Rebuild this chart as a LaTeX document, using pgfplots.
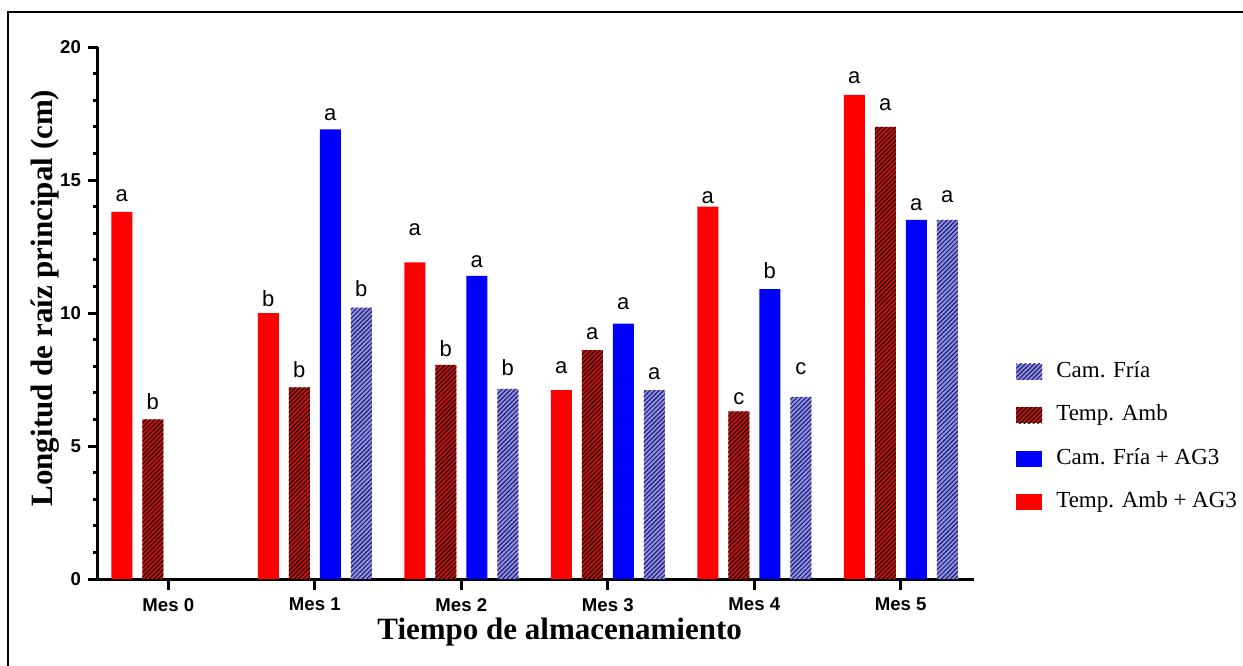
\documentclass[border=0pt]{standalone}
\usepackage{pgfplots}
\pgfplotsset{compat=1.18}
\usepackage{pgfplotstable}
\usepackage{fontspec}
\setmainfont{Liberation Serif}
\setsansfont{Liberation Sans}
\usetikzlibrary{patterns.meta}
\definecolor{cred}{HTML}{FF0000}
\definecolor{cdred}{HTML}{C81010}
\definecolor{cblue}{HTML}{0000FF}
\definecolor{clblue}{HTML}{8C8CE6}
\definecolor{cnavy}{HTML}{1A1A60}

\pgfplotstableread{
x y lab off
0 13.8 a 1.5
1 10.0 b -0.5
2 11.9 a 10
3 7.1 a 4.5
4 14.0 a -2
5 18.2 a 2
}\ta
\pgfplotstableread{
x y lab off
0 6.0 b 1.5
1 7.2 b 1.5
2 8.05 b 0.5
3 8.6 a 1.5
4 6.3 c 0
5 17.0 a 4.5
}\tb
\pgfplotstableread{
x y lab off
1 16.9 a 1
2 11.4 a 0.5
3 9.6 a 3.5
4 10.9 b 1.5
5 13.5 a 1
}\tc
\pgfplotstableread{
x y lab off
1 10.2 b 2
2 7.15 b 3
3 7.1 a 1.5
4 6.85 c 7.5
5 13.5 a 5
}\td

\begin{document}
\begin{tikzpicture}
\useasboundingbox (0,0) rectangle (621.5pt,332.5pt);
\draw[line width=1pt] (4pt,-2pt) -- (4pt,326.5pt) -- (625pt,326.5pt);
\begin{axis}[
  at={(49pt,43pt)}, anchor=south west,
  scale only axis, width=438pt, height=266pt,
  xmin=-0.48, xmax=5.5, ymin=0, ymax=20,
  axis lines*=left,
  axis line style={-, line width=1.5pt},
  ybar=5pt, bar width=10.5pt,
  xtick={0,1,2,3,4,5},
  xticklabels={Mes 0,Mes 1,Mes 2,Mes 3,Mes 4,Mes 5},
  ytick={0,5,10,15,20},
  minor y tick num=4,
  tick align=outside,
  major tick length=5pt, minor tick length=2.5pt,
  major tick style={draw=black, line width=1.5pt},
  minor tick style={draw=black, line width=1.5pt},
  tick label style={font=\sffamily\bfseries\fontsize{9.3}{10}\selectfont},
  xticklabel style={yshift=-1pt},
  /pgf/number format/assume math mode=true,
  xlabel={Tiempo de almacenamiento},
  ylabel={Longitud de raíz principal (cm)},
  label style={font=\bfseries\fontsize{15.5}{17}\selectfont},
  xlabel style={at={(axis description cs:0.527,-0.099)}, anchor=center},
  ylabel style={at={(axis description cs:-0.0605,0.528)}, anchor=center},
  point meta=explicit symbolic,
  nodes near coords,
  every node near coord/.append style={font=\sffamily\fontsize{11}{12}\selectfont, black, yshift=\myoff pt},
  visualization depends on={\thisrow{off}\as\myoff},
  legend cell align=left,
  legend style={draw=none, fill=none, font=\fontsize{11.5}{13}\selectfont,
    at={(axis description cs:1.041,0.425)}, anchor=north west,
    row sep=7.25pt, column sep=5pt,
    nodes={text height=8pt, text depth=2.5pt, inner sep=2pt}},
  myleg/.style={legend image code/.code={\path[##1, draw=none] (0pt,-4pt) rectangle (13pt,4pt);}},
  dredsty/.style={fill=cdred, draw=none, postaction={pattern color=black, pattern={Lines[angle=45,distance=1.6pt,line width=0.5pt]}}},
  lbluesty/.style={fill=clblue, draw=none, postaction={pattern color=cnavy, pattern={Lines[angle=45,distance=1.6pt,line width=0.5pt]}}},
]
\addlegendimage{myleg, lbluesty}
\addlegendentry{Cam. Fría}
\addlegendimage{myleg, dredsty}
\addlegendentry{Temp. Amb}
\addlegendimage{myleg, fill=cblue, draw=none}
\addlegendentry{Cam. Fría + AG3}
\addlegendimage{myleg, fill=cred, draw=none}
\addlegendentry{Temp. Amb + AG3}

\addplot[bar shift=-23.25pt, fill=cred, draw=none, forget plot] table[x=x, y=y, meta=lab] {\ta};
\addplot[bar shift=-7.75pt, dredsty, forget plot] table[x=x, y=y, meta=lab] {\tb};
\addplot[bar shift=7.75pt, fill=cblue, draw=none, forget plot] table[x=x, y=y, meta=lab] {\tc};
\addplot[bar shift=23.25pt, lbluesty, forget plot] table[x=x, y=y, meta=lab] {\td};
\end{axis}
\begin{axis}[
  at={(49pt,43pt)}, anchor=south west,
  scale only axis, width=438pt, height=266pt,
  xmin=-0.48, xmax=5.5, ymin=0, ymax=20,
  hide axis, clip=false,
]
\addplot[ycomb, draw=black, line width=1.5pt, mark=none, forget plot]
  coordinates {(0,-0.43) (1,-0.43) (2,-0.43) (3,-0.43) (4,-0.43) (5,-0.43)};
\end{axis}
\end{tikzpicture}
\end{document}
